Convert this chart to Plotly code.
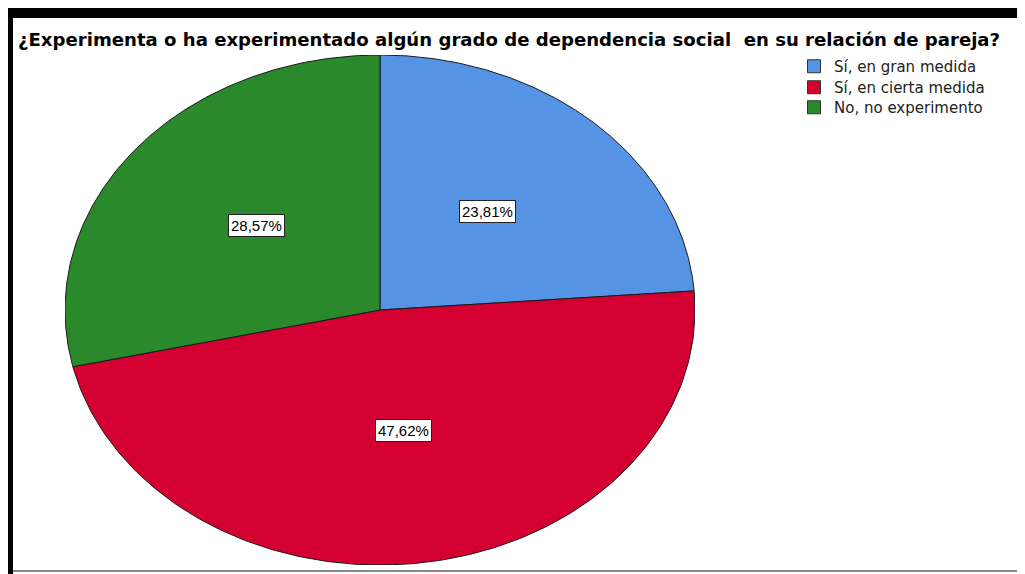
import numpy as np
import plotly.graph_objects as go

# data
categories = ["Sí, en gran medida", "Sí, en cierta medida", "No, no experimento"]
percentages = [23.81, 47.62, 28.57]
colors = ["#5593E5", "#D50032", "#2A8A2B"]
title_text = "¿Experimenta o ha experimentado algún grado de dependencia social\u00a0 en su relación de pareja?"

W, H = 1025, 574
OFF = 8  # the page body adds 8px around the figure


def px(x):
    return (x - OFF) / W


def py(y):
    return 1 - (y - OFF) / H


# ellipse box of the pie (screen pixels)
pie_left, pie_right = 65, 695
pie_top, pie_bottom = 55, 565

fig = go.Figure()

# slices drawn clockwise from 12 o'clock, as an ellipse on unit axes
total = sum(percentages)
start = 0.0
mids = []
for cat, val, col in zip(categories, percentages, colors):
    a0 = start / total * 2 * np.pi
    a1 = (start + val) / total * 2 * np.pi
    t = np.linspace(a0, a1, 200)
    xs = np.concatenate([[0], np.sin(t), [0]])
    ys = np.concatenate([[0], np.cos(t), [0]])
    fig.add_trace(go.Scatter(x=xs, y=ys, mode="lines", fill="toself",
                             fillcolor=col, line=dict(color="#1a1a1a", width=1),
                             hoverinfo="skip", showlegend=False))
    mids.append((a0 + a1) / 2)
    start += val

# legend entries, one small legend per row so the row spacing matches
legend_names = ["legend", "legend2", "legend3"]
row_centers = [65, 86, 106]
legend_layout = {}
for cat, col, lg, yc in zip(categories, colors, legend_names, row_centers):
    fig.add_trace(go.Scatter(x=[None], y=[None], mode="markers", name=cat, legend=lg,
                             marker=dict(symbol="square", size=13, color=col,
                                         line=dict(color="#333333", width=1))))
    legend_layout[lg] = dict(x=px(794), y=py(yc - 15), xanchor="left", yanchor="top",
                             font=dict(family="DejaVu Sans", size=15, color="#222222"),
                             bgcolor="rgba(0,0,0,0)", itemwidth=30)

# percentage labels in white boxes
for val, m in zip(percentages, mids):
    fig.add_annotation(x=0.5 * np.sin(m), y=0.5 * np.cos(m) + 0.02,
                       text=f"{val:.2f}%".replace(".", ","), showarrow=False,
                       font=dict(family="Liberation Sans", size=15, color="black"),
                       bgcolor="white", bordercolor="#222222", borderwidth=1, borderpad=2)

# frame around the picture
shapes = [
    dict(type="rect", xref="paper", yref="paper", x0=0, x1=1, y0=py(18), y1=1,
         fillcolor="black", line=dict(width=0)),
    dict(type="rect", xref="paper", yref="paper", x0=0, x1=px(13), y0=0, y1=1,
         fillcolor="black", line=dict(width=0)),
    dict(type="line", xref="paper", yref="paper", x0=px(13), x1=1, y0=py(571), y1=py(571),
         line=dict(color="#888888", width=2)),
]

fig.update_layout(
    width=W, height=H, autosize=False,
    margin=dict(l=0, r=0, t=0, b=0),
    paper_bgcolor="white", plot_bgcolor="white",
    shapes=shapes,
    title=dict(text=title_text, x=px(18), xanchor="left", xref="paper",
               y=py(40), yanchor="middle", yref="container",
               font=dict(family="DejaVu Sans", size=18.1, color="black", weight="bold")),
    xaxis=dict(domain=[px(pie_left), px(pie_right)], range=[-1, 1], visible=False,
               fixedrange=True),
    yaxis=dict(domain=[py(pie_bottom), py(pie_top)], range=[-1, 1], visible=False,
               fixedrange=True),
    showlegend=True,
    **legend_layout,
)

fig.write_html("out.html")
